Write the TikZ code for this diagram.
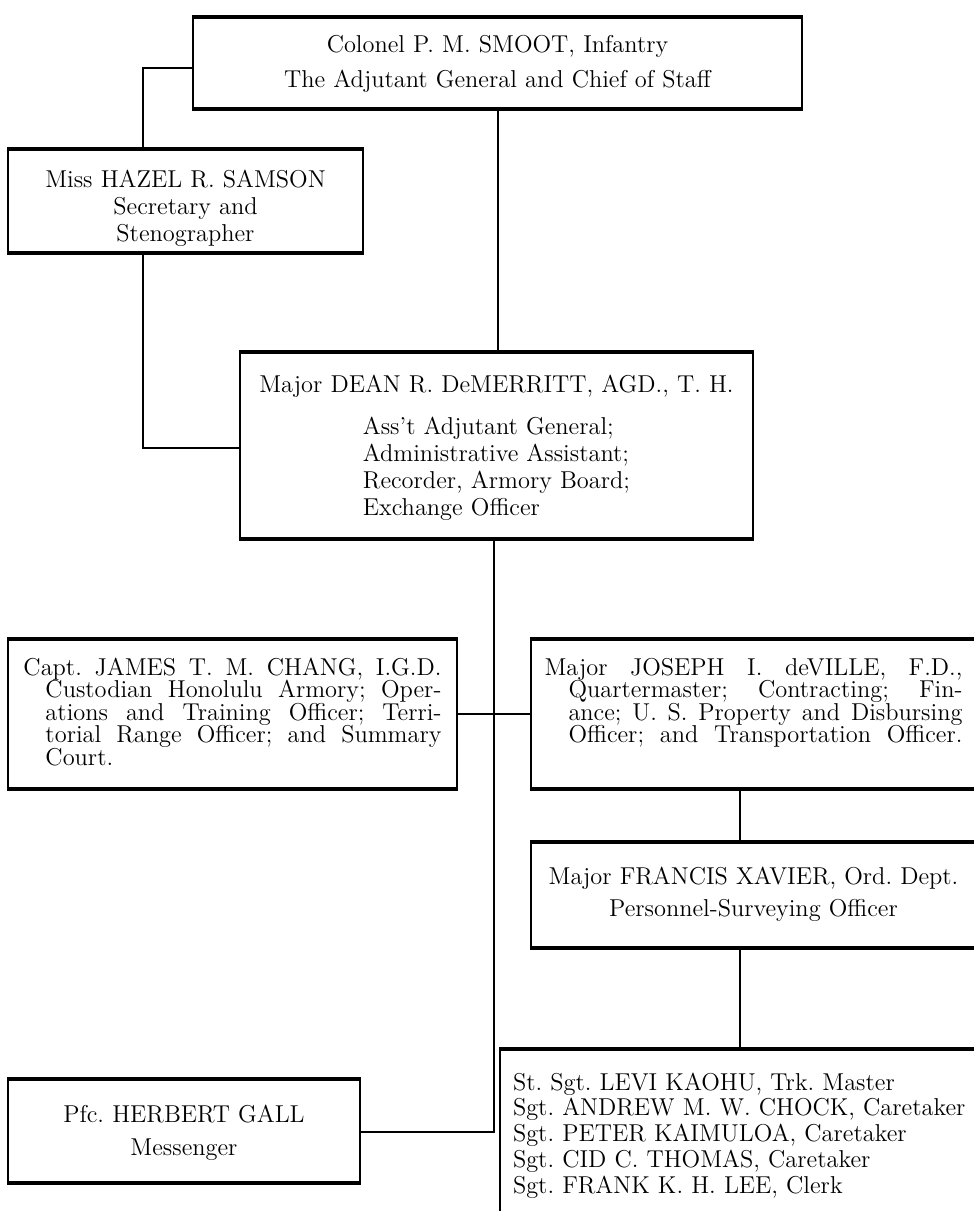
\documentclass[tikz,border=0pt]{standalone}
\usepackage{tikz}
\newcommand{\orgfont}{\fontsize{12.2}{13.5}\selectfont\frenchspacing}
\newcommand{\tightfont}{\fontsize{12.2}{11.3}\selectfont\frenchspacing}
\newcommand{\crewfont}{\fontsize{12.2}{12.9}\selectfont\frenchspacing}
\newcommand{\spreadline}[2]{\makebox[#1][s]{\spaceskip=0.3333em plus 1fil\relax #2}}
\tikzset{post/.style={draw, rectangle, line width=1pt, inner sep=0pt, align=center, font=\orgfont,
    append after command={(\tikzlastnode.north west) edge [line width=1.6pt] (\tikzlastnode.north east)
      (\tikzlastnode.south west) edge [line width=1.6pt] (\tikzlastnode.south east)}},
  link/.style={line width=1pt}}

\begin{document}
\begin{tikzpicture}[x=0.5pt, y=-0.5pt]
  \useasboundingbox (0,0) rectangle (974,1211);

  \node (top) [post, text width=304.5pt, text height=17pt, text depth=28pt] at (497.5,63)
    {Colonel P. M. SMOOT, Infantry\\[4pt] The Adjutant General and Chief of Staff};
  \node (samson) [post, text width=177.5pt, text height=18.5pt, text depth=32.5pt] at (185.5,201)
    {Miss HAZEL R. SAMSON\\ Secretary and\\ Stenographer};
  \node (demerritt) [post, text width=256.5pt, text height=19.5pt, text depth=73pt] at (496.5,445.5)
    {Major DEAN R. DeMERRITT, AGD., T. H.\\[7.5pt]
     \begin{tabular}[t]{@{}l@{}}Ass't Adjutant General;\\ Administrative Assistant;\\
     Recorder, Armory Board;\\ Exchange Officer\end{tabular}};

  \node (chang) [post, font=\tightfont, align=left, text width=209pt, minimum width=224.5pt,
    text height=17.5pt, text depth=56.5pt] at (232.5,714)
    {\spreadline{209pt}{Capt. JAMES T. M. CHANG, I.G.D.}\\
     \hspace*{11pt}\spreadline{198pt}{Custodian Honolulu Armory; Oper-}\\
     \hspace*{11pt}\spreadline{198pt}{ations and Training Officer; Terri-}\\
     \hspace*{11pt}\spreadline{198pt}{torial Range Officer; and Summary}\\
     \hspace*{11pt}Court.};
  \node (deville) [post, font=\tightfont, align=left, text width=209pt, minimum width=222.5pt,
    text height=17.5pt, text depth=56.5pt] at (753.5,714)
    {\spreadline{209pt}{Major JOSEPH I. deVILLE, F.D.,}\\
     \hspace*{12pt}\spreadline{197pt}{Quartermaster; Contracting; Fin-}\\
     \hspace*{12pt}\spreadline{197pt}{ance; U. S. Property and Disbursing}\\
     \hspace*{12pt}\spreadline{197pt}{Officer; and Transportation Officer.}};
  \node (xavier) [post, text width=222.5pt, text height=20.5pt, text depth=31.5pt] at (753.5,895)
    {Major FRANCIS XAVIER, Ord. Dept.\\[2.5pt] Personnel-Surveying Officer};
  \node (crew) [post, font=\crewfont, align=left, text width=225pt, minimum width=238pt,
    text height=20pt, text depth=61.5pt] at (738,1131.5)
    {\mbox{St. Sgt. LEVI KAOHU, Trk. Master}\\
     \mbox{Sgt. ANDREW M. W. CHOCK, Caretaker}\\
     \mbox{Sgt. PETER KAIMULOA, Caretaker}\\
     \mbox{Sgt. CID C. THOMAS, Caretaker}\\
     \mbox{Sgt. FRANK K. H. LEE, Clerk}};
  \node (gall) [post, text width=176pt, text height=21pt, text depth=30pt] at (184,1131)
    {Pfc. HERBERT GALL\\[3pt] Messenger};

  \coordinate (k1) at (143,68);
  \coordinate (k2) at (143,448);
  \coordinate (k3) at (494,1132);
  \coordinate (k4) at (740,0);

  \draw [link] (top.west |- k1) -- (k1) -- (k1 |- samson.north);
  \draw [link] (k2 |- samson.south) -- (k2) -- (demerritt.west |- k2);
  \draw [link] (top.south) -- (top.south |- demerritt.north);
  \draw [link] (demerritt.south -| k3) -- (k3) -- (gall.east |- k3);
  \draw [link] (chang.east) -- (deville.west);
  \draw [link] (deville.south -| k4) -- (xavier.north -| k4);
  \draw [link] (xavier.south -| k4) -- (crew.north -| k4);
\end{tikzpicture}
\end{document}
